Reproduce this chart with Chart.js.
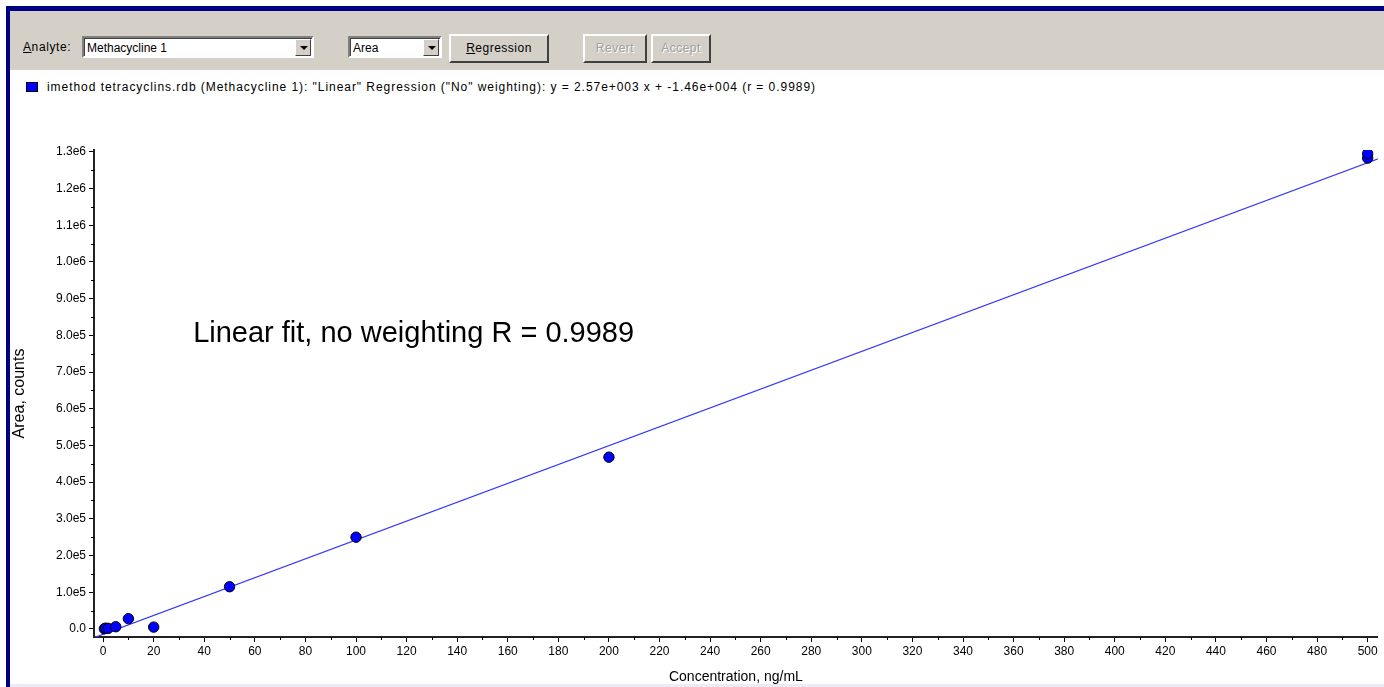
<!DOCTYPE html>
<html>
<head>
<meta charset="utf-8">
<script src="https://cdn.jsdelivr.net/npm/chart.js@4/dist/chart.umd.min.js"></script>
<style>
    body { margin: 0; width: 1384px; height: 687px; background: #fff; overflow: hidden;
           font-family: "Liberation Sans", Arial, sans-serif; position: relative; }
    .navyTop { position: absolute; left: 6px; top: 6px; width: 1378px; height: 5px; background: #000080; }
    .navyLeft { position: absolute; left: 6px; top: 6px; width: 4px; height: 681px; background: #000080; }
    .bottomLine { position: absolute; left: 10px; top: 684px; width: 1374px; height: 3px; background: #ececf8; }
    .toolbar { position: absolute; left: 10px; top: 11px; width: 1374px; height: 59px; background: #d4d0c8; }
    .lbl { position: absolute; font-size: 12px; color: #000; letter-spacing: 0.6px; }
    .combo { position: absolute; height: 22px; background: #fff; box-sizing: border-box;
             border: 2px solid; border-color: #808080 #fff #fff #808080; box-shadow: inset 1px 1px 0 #404040; }
    .combo span { position: absolute; left: 3px; top: 3px; font-size: 12px; }
    .combo i { position: absolute; right: 1px; top: 1px; width: 16px; height: 17px; background: #d4d0c8;
               box-sizing: border-box; border: 1px solid; border-color: #fff #404040 #404040 #fff; }
    .combo i:after { content: ""; position: absolute; left: 4px; top: 6px; border: 4px solid transparent;
                     border-top: 4px solid #000; border-bottom: 0; }
    .btn { position: absolute; height: 29px; background: #d4d0c8; box-sizing: border-box; text-align: center;
           line-height: 25px; font-size: 12px; letter-spacing: 0.5px;
           border: 2px solid; border-color: #fff #404040 #404040 #fff; }
    .btn.off { color: #a0a0a0; text-shadow: 1px 1px 0 #fff; }
    .legend { position: absolute; left: 26px; top: 80px; font-size: 12px; letter-spacing: 0.95px;
              color: #000; white-space: nowrap; }
    .legend b { display: inline-block; width: 12px; height: 10px; background: #0000ff; border: 1px solid #000;
                vertical-align: -1px; margin-right: 9px; box-sizing: border-box; }
    #wrap { position: absolute; left: 10px; top: 71px; width: 1374px; height: 613px; }
</style>
</head>
<body>
<div class="navyTop"></div>
<div class="navyLeft"></div>
<div class="toolbar"></div>
<div class="lbl" style="left:23px;top:40px"><u>A</u>nalyte:</div>
<div class="combo" style="left:82px;top:36px;width:232px"><span>Methacycline 1</span><i></i></div>
<div class="combo" style="left:348px;top:36px;width:94px"><span>Area</span><i></i></div>
<div class="btn" style="left:449px;top:34px;width:100px"><u>R</u>egression</div>
<div class="btn off" style="left:583px;top:34px;width:64px">Revert</div>
<div class="btn off" style="left:651px;top:34px;width:60px">Accept</div>
<div class="legend"><b></b>imethod tetracyclins.rdb (Methacycline 1): "Linear" Regression ("No" weighting): y = 2.57e+003 x + -1.46e+004 (r = 0.9989)</div>
<div class="bottomLine"></div>
<div id="wrap"><canvas id="calib"></canvas></div>

<script>
    // calibration standards
    const concentrations = [0.5, 1, 2, 5, 10, 20, 50, 100, 200, 500, 500];
    const areas = [500, 2000, 1500, 6000, 28000, 5000, 115000, 250000, 468000, 1283000, 1295000];

    // regression printed in the header: y = 2.57e+003 x + -1.46e+004
    const slope = 2570;
    const intercept = -14600;
    const fitRange = [-4, 505];

    const xTicks = [0, 20, 40, 60, 80, 100, 120, 140, 160, 180, 200, 220, 240, 260, 280, 300,
        320, 340, 360, 380, 400, 420, 440, 460, 480, 500];
    const yTicks = [0, 100000, 200000, 300000, 400000, 500000, 600000, 700000, 800000, 900000,
        1000000, 1100000, 1200000, 1300000];
    const yTickLabels = ['0.0', '1.0e5', '2.0e5', '3.0e5', '4.0e5', '5.0e5', '6.0e5', '7.0e5', '8.0e5',
        '9.0e5', '1.0e6', '1.1e6', '1.2e6', '1.3e6'];
    const xMinor = [10, 30, 50, 70, 90, 110, 130, 150, 170, 190, 210, 230, 250, 270, 290, 310,
        330, 350, 370, 390, 410, 430, 450, 470, 490];
    const yMinor = [50000, 150000, 250000, 350000, 450000, 550000, 650000, 750000, 850000,
        950000, 1050000, 1150000, 1250000];

    const note = { text: 'Linear fit, no weighting R = 0.9989', x: 35.6, y: 782000 };

    const points = concentrations.map((c, i) => ({ x: c, y: areas[i] }));
    const fitLine = fitRange.map(x => ({ x: x, y: slope * x + intercept }));

    // minor ticks + free text, drawn through the chart scales
    const extras = {
        id: 'extras',
        afterDraw(chart) {
            const ctx = chart.ctx;
            const sx = chart.scales.x;
            const sy = chart.scales.y;
            const area = chart.chartArea;
            ctx.save();
            ctx.strokeStyle = '#000';
            ctx.lineWidth = 1;
            ctx.beginPath();
            xMinor.forEach(v => {
                const px = Math.round(sx.getPixelForValue(v)) + 0.5;
                ctx.moveTo(px, area.bottom);
                ctx.lineTo(px, area.bottom + 3);
            });
            yMinor.forEach(v => {
                const py = Math.round(sy.getPixelForValue(v)) + 0.5;
                ctx.moveTo(area.left, py);
                ctx.lineTo(area.left - 3, py);
            });
            ctx.stroke();

            ctx.fillStyle = '#000';
            ctx.font = '29px "Liberation Sans", Arial, sans-serif';
            ctx.textBaseline = 'alphabetic';
            ctx.fillText(note.text, sx.getPixelForValue(note.x), sy.getPixelForValue(note.y));
            ctx.restore();
        }
    };

    const tickFont = { family: '"Liberation Sans", Arial, sans-serif', size: 12 };

    new Chart(document.getElementById('calib'), {
        type: 'scatter',
        data: {
            datasets: [{
                type: 'line',
                label: 'fit',
                data: fitLine,
                borderColor: '#3535ff',
                borderWidth: 1.2,
                pointRadius: 0,
                fill: false,
                order: 2
            }, {
                label: 'Methacycline 1',
                data: points,
                backgroundColor: '#0000ff',
                borderColor: '#000',
                borderWidth: 1,
                pointRadius: 5.2,
                order: 1
            }]
        },
        options: {
            responsive: true,
            maintainAspectRatio: false,
            animation: false,
            layout: { padding: { top: 79, right: 6, left: 0, bottom: 0 } },
            plugins: {
                legend: { display: false },
                tooltip: { enabled: false }
            },
            scales: {
                x: {
                    type: 'linear',
                    min: -3.6,
                    max: 504,
                    afterBuildTicks: s => { s.ticks = xTicks.map(v => ({ value: v })); },
                    afterFit: s => { s.height = 47; },
                    border: { color: '#222', width: 2 },
                    grid: { drawOnChartArea: false, drawTicks: true, tickLength: 5, color: '#000' },
                    ticks: { color: '#000', font: tickFont, padding: 2, maxRotation: 0, autoSkip: false },
                    title: {
                        display: true,
                        text: 'Concentration, ng/mL',
                        color: '#000',
                        font: { family: '"Liberation Sans", Arial, sans-serif', size: 14, lineHeight: 1 },
                        padding: { top: 0, bottom: 0 }
                    }
                },
                y: {
                    type: 'linear',
                    min: -22000,
                    max: 1305000,
                    afterBuildTicks: s => { s.ticks = yTicks.map(v => ({ value: v })); },
                    afterFit: s => { s.width = 84; },
                    border: { color: '#222', width: 2 },
                    grid: { drawOnChartArea: false, drawTicks: true, tickLength: 5, color: '#000' },
                    ticks: {
                        color: '#000',
                        font: tickFont,
                        padding: 3,
                        autoSkip: false,
                        callback: (v, i) => yTickLabels[i]
                    },
                    title: {
                        display: true,
                        text: 'Area, counts',
                        color: '#000',
                        font: { family: '"Liberation Sans", Arial, sans-serif', size: 16 },
                        padding: { top: 0, bottom: 0 }
                    }
                }
            }
        },
        plugins: [extras]
    });
</script>
</body>
</html>
